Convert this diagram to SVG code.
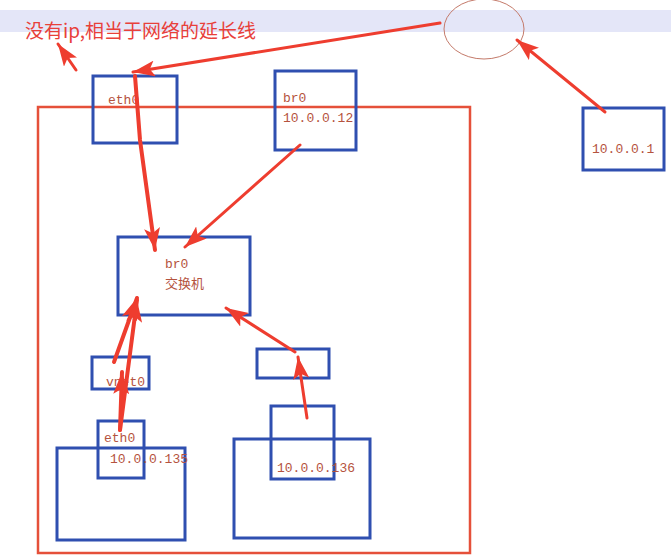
<svg xmlns="http://www.w3.org/2000/svg" width="671" height="560" viewBox="0 0 671 560">
<style>
.b{fill:none;stroke:#2f4fb0;stroke-width:3}
.t{font-family:"Liberation Mono","Noto Sans CJK SC",monospace;font-size:13px;fill:#b5533e}
.c{stroke:#ee3d2f;stroke-width:4;fill:none;stroke-linecap:round;marker-end:url(#ah)}
</style>
<defs><marker id="ah" markerUnits="userSpaceOnUse" markerWidth="24" markerHeight="16" refX="22" refY="8" orient="auto"><path d="M0,0 L22,8 L0,16 L5,8 Z" fill="#ee3d2f"/></marker></defs>
<rect x="0" y="0" width="671" height="560" fill="#fff"/>
<rect x="0" y="10" width="671" height="22" fill="#e4e6f8"/>
<ellipse cx="484" cy="29" rx="40" ry="30" fill="none" stroke="#c47a6a" stroke-width="1"/>
<text x="25" y="38" font-family="'Noto Sans CJK SC',sans-serif" font-size="19" fill="#e8403a">没有ip,相当于网络的延长线</text>
<rect x="38" y="107" width="432" height="446" fill="none" stroke="#e5503a" stroke-width="2.5"/>
<g id="eth0top"><rect class="b" x="93" y="76" width="84" height="67"/><text class="t" x="108" y="104">eth0</text></g>
<g id="br0top"><rect class="b" x="275" y="71" width="81" height="79"/><text class="t" x="283" y="102">br0</text><text class="t" x="283" y="122">10.0.0.12</text></g>
<g id="host"><rect class="b" x="583" y="108" width="81" height="62"/><text class="t" x="592" y="153">10.0.0.1</text></g>
<g id="br0sw"><rect class="b" x="118" y="237" width="132" height="78"/><text class="t" x="165" y="268">br0</text><text class="t" x="165" y="288" font-family="'Noto Sans CJK SC',sans-serif">交换机</text></g>
<g id="vnet0"><rect class="b" x="92" y="357" width="57" height="32"/><text class="t" x="106" y="386">vnet0</text></g>
<g id="vnet1"><rect class="b" x="257" y="349" width="72" height="29"/></g>
<g id="vm1"><rect class="b" x="57" y="448" width="128" height="92"/><rect class="b" x="98" y="421" width="46" height="57"/><text class="t" x="104" y="442">eth0</text><text class="t" x="110" y="463">10.0.0.135</text></g>
<g id="vm2"><rect class="b" x="234" y="439" width="136" height="99"/><rect class="b" x="271" y="406" width="63" height="73"/><text class="t" x="277" y="472">10.0.0.136</text></g>
<g id="connectors">
<path class="c" d="M440,23 L133,72" style="stroke-width:3"/>
<path class="c" d="M76,70 L58,44" style="stroke-width:3"/>
<path class="c" d="M605,112 L517,40" style="stroke-width:3"/>
<path class="c" d="M135,76 L140,140 L155,250"/>
<path class="c" d="M300,145 L185,247" style="stroke-width:3"/>
<path class="c" d="M114,362 L137,298"/>
<path class="c" d="M120,430 L122,372"/>
<path class="c" d="M120,430 L137,300"/>
<path class="c" d="M295,352 L226,308" style="stroke-width:3"/>
<path class="c" d="M307,418 L298,357" style="stroke-width:3"/>
</g>
</svg>
